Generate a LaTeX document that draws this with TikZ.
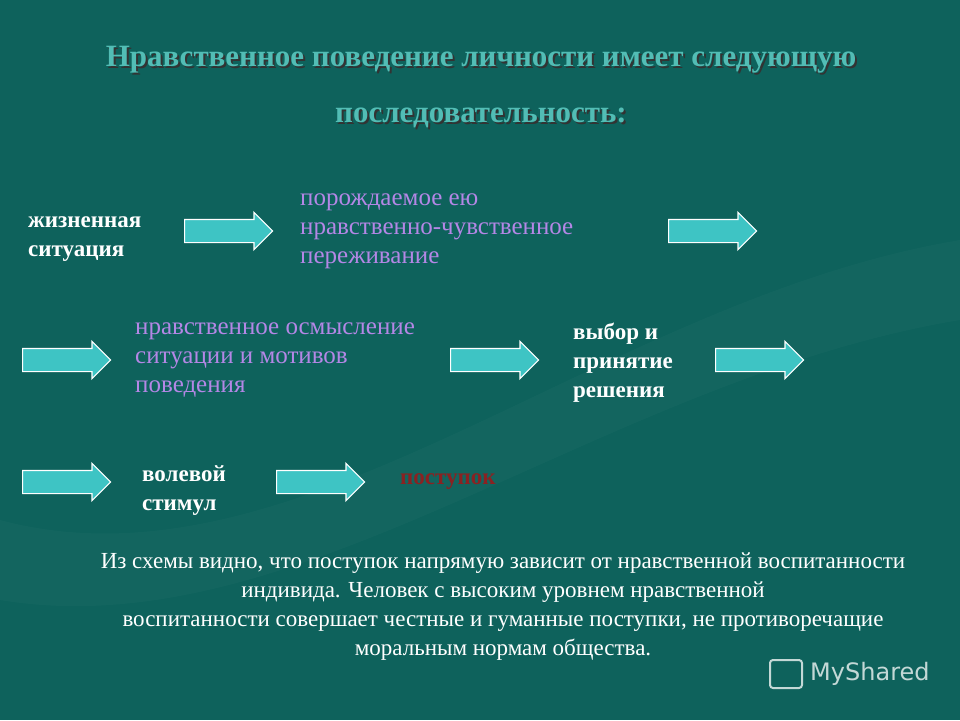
\documentclass[tikz,border=0pt]{standalone}
\usepackage{fontspec}
\setmainfont{Liberation Serif}
\newfontfamily\sansf{DejaVu Sans}
\usetikzlibrary{shapes.arrows}
\definecolor{bg}{HTML}{0E625C}
\definecolor{arr}{HTML}{3EC4C4}
\definecolor{purp}{HTML}{B487E6}
\definecolor{ttl}{HTML}{52BDB5}
\definecolor{dred}{HTML}{8A2222}
\tikzset{
  x=1pt,y=-1pt,
  arrowshape/.style={single arrow, draw=white, line width=1.2pt, fill=arr, minimum height=88pt, minimum width=36pt, single arrow head extend=7pt, inner xsep=0pt, inner ysep=11pt, anchor=west, single arrow tip angle=90},
  wtxt/.style={text=white, font=\fontsize{23}{29}\selectfont\bfseries, align=left, anchor=north west, inner sep=0pt},
  ptxt/.style={text=purp, font=\fontsize{25}{29}\selectfont, align=left, anchor=north west, inner sep=0pt},
  ttxt/.style={text=ttl, font=\fontsize{31}{34}\selectfont\bfseries, inner sep=0pt},
  shadowt/.style={text=black!80, font=\fontsize{31}{34}\selectfont\bfseries, inner sep=0pt}
}
\begin{document}
\begin{tikzpicture}
\fill[bg] (0,0) rectangle (960,720);
\useasboundingbox (0,0) rectangle (960,720);
\fill[white,opacity=0.025] (0,520) .. controls (300,600) and (600,300) .. (960,240) -- (960,320) .. controls (600,380) and (300,650) .. (0,600) -- cycle;
% title
\node[shadowt] at (483,62) {Нравственное поведение личности имеет следующую};
\node[ttxt] (t1) at (481,60) {Нравственное поведение личности имеет следующую};
\node[shadowt] at (483,120) {последовательность:};
\node[ttxt] (t2) at (481,118) {последовательность:};
% texts
\node[wtxt] (s1) at (28,216) {жизненная\\ситуация};
\node[ptxt] (s2) at (300,194) {порождаемое ею\\нравственно-чувственное\\переживание};
\node[ptxt] (s3) at (135,323) {нравственное осмысление\\ситуации и мотивов\\поведения};
\node[wtxt] (s4) at (573,323) {выбор и\\принятие\\решения};
\node[wtxt] (s5) at (142,465) {волевой\\стимул};
\node[text=dred, font=\fontsize{23}{29}\selectfont\bfseries, anchor=west, inner sep=0pt] (s6) at (400,482) {поступок};
% arrows
\node[arrowshape] (a1) at (184,231) {};
\node[arrowshape] (a2) at (668,231) {};
\node[arrowshape] (a3) at (22,360) {};
\node[arrowshape] (a4) at (450,360) {};
\node[arrowshape] (a5) at (715,360) {};
\node[arrowshape] (a6) at (22,482) {};
\node[arrowshape] (a7) at (276,482) {};
% paragraph
\node[text=white, font=\fontsize{23}{29}\selectfont, align=center, inner sep=0pt] (p) at (503,607) {Из схемы видно, что поступок напрямую зависит от нравственной воспитанности\\индивида. Человек с высоким уровнем нравственной\\воспитанности совершает честные и гуманные поступки, не противоречащие\\моральным нормам общества.};
\node[text=white!75!bg, font=\sansf\fontsize{24}{28}\selectfont, anchor=west, inner sep=0pt] (wm) at (810,674) {MyShared};
\draw[white!75!bg, line width=2pt, rounded corners=3pt] (770,660) rectangle (802,688);
\end{tikzpicture}
\end{document}
